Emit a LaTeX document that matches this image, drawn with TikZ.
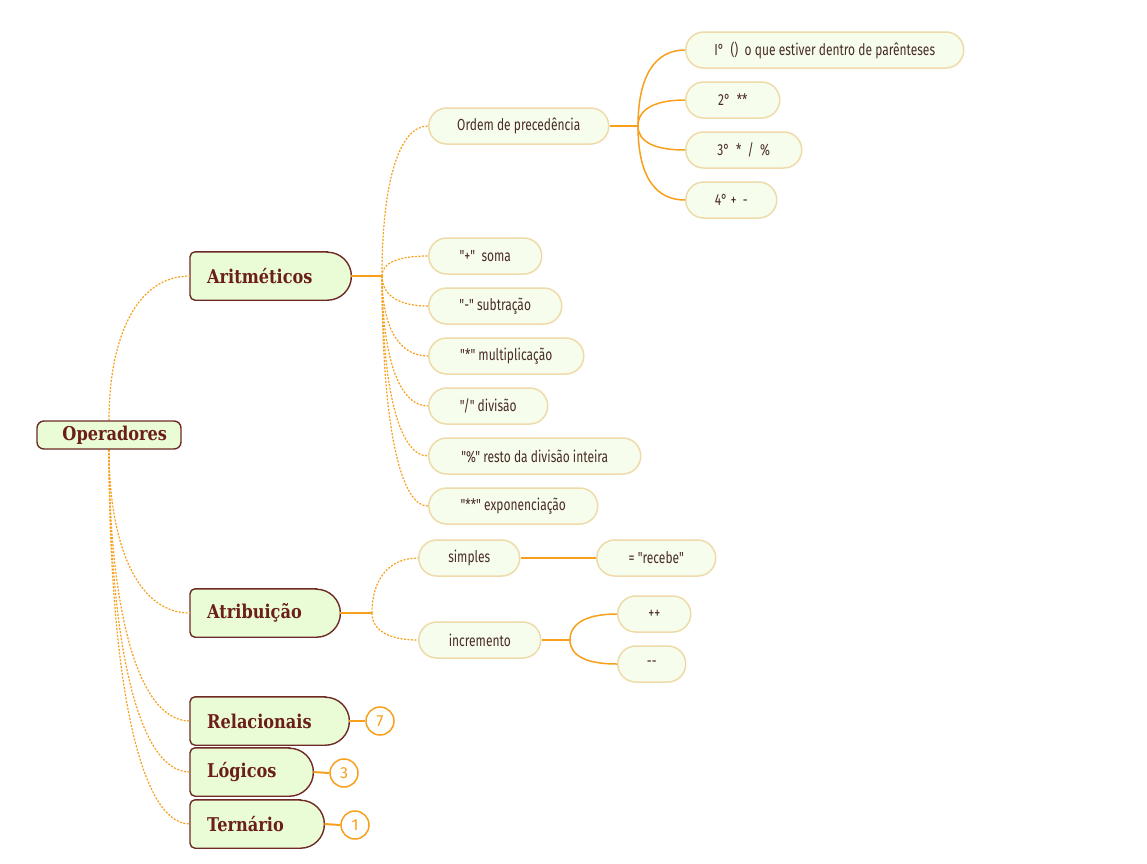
\documentclass[tikz,border=0pt]{standalone}
\usepackage{fontspec}
\newfontfamily\chfont[FakeStretch=0.75]{Fira Sans}
\newfontfamily\tpfont[FakeStretch=0.85, UprightFont={DejaVu Serif Bold}, BoldFont={DejaVu Serif Bold}]{DejaVu Serif}
\newfontfamily\nmfont{Fira Sans}
\definecolor{orng}{HTML}{F8A01C}
\definecolor{tfill}{HTML}{E9FCD5}
\definecolor{tborder}{HTML}{6E2A25}
\definecolor{ttext}{HTML}{6B1E1A}
\definecolor{cfill}{HTML}{F6FDEC}
\definecolor{cborder}{HTML}{EFDBAA}
\definecolor{ctext}{HTML}{4A2C27}
\pgfdeclarelayer{bg}
\pgfsetlayers{bg,main}
\tikzset{
  topic/.style={rectangle, minimum height=48pt, inner xsep=17pt, inner ysep=0pt,
    align=left, font=\tpfont\fontsize{19}{21}\selectfont, text=ttext, anchor=west},
  topicline/.style={draw=tborder, fill=tfill, line width=1.4pt},
  opnode/.style={rectangle, rounded corners=7pt, draw=tborder, fill=tfill, line width=1.4pt,
    minimum height=28pt, inner xsep=14pt, inner ysep=0pt, text width=116pt, align=right,
    font=\tpfont\fontsize{19}{21}\selectfont, text=ttext},
  child/.style={rectangle, rounded corners=18pt, draw=cborder, fill=cfill, line width=1.5pt,
    minimum height=36pt, inner xsep=0pt, inner ysep=0pt,
    font=\chfont\fontsize{16}{18}\selectfont, text=ctext, anchor=west},
  cnum/.style={circle, draw=orng, fill=white, line width=1.5pt, minimum size=28pt, inner sep=0pt,
    font=\nmfont\fontsize{16}{18}\selectfont, text=orng},
  dsh/.style={draw=orng, line width=1.2pt, dash pattern=on 2pt off 1.5pt},
  sol/.style={draw=orng, line width=2pt},
  solc/.style={draw=orng, line width=1.5pt},
}
\newcommand\topicshape[1]{%
  \filldraw[topicline] ([xshift=-24pt]#1.north east) -- ([xshift=5pt]#1.north west)
    arc[start angle=90,end angle=180,radius=5pt] -- ([yshift=5pt]#1.south west)
    arc[start angle=180,end angle=270,radius=5pt] -- ([xshift=-24pt]#1.south east)
    arc[start angle=-90,end angle=90,radius=24pt] -- cycle;}
\begin{document}
\begin{tikzpicture}[x=1pt,y=1pt]
\useasboundingbox (0,0) rectangle (1147,-863);

% central topic
\node[opnode] (op) at (109,-435) {Operadores};

% main topics
\node[topic, text width=127pt] (ar) at (190,-276) {Aritméticos};
\node[topic, text width=116pt] (at) at (190,-613) {Atribuição};
\node[topic, text width=125pt] (re) at (190,-721) {Relacionais};
\node[topic, text width=89pt]  (lo) at (190,-772) {Lógicos};
\node[topic, text width=100pt] (te) at (190,-824) {Ternário};

% counters
\node[cnum] (c7) at (380,-721) {7};
\node[cnum] (c3) at (344,-773) {3};
\node[cnum] (c1) at (355,-825) {1};

% hubs
\coordinate (ha) at (382,-276);
\coordinate (hp) at (638,-126);
\coordinate (ht) at (372,-613);
\coordinate (hi) at (570,-640);

% Aritméticos children
\node[child, minimum width=180pt] (ord) at (428,-126) {Ordem de precedência};
\node[child, minimum width=113pt] (soma) at (428,-256) {"+"\ \ soma};
\node[child, minimum width=133pt] (sub) at (428,-306) {"-" subtração};
\node[child, minimum width=155pt] (mul) at (428,-356) {"*" multiplicação};
\node[child, minimum width=119pt] (div) at (428,-406) {"/" divisão};
\node[child, minimum width=212pt] (res) at (428,-456) {"\%" resto da divisão inteira};
\node[child, minimum width=169pt] (exp) at (428,-506) {"**" exponenciação};

% precedence children
\node[child, minimum width=278pt] (p1) at (685,-50) {I°\ \ ()\ \ o que estiver dentro de parênteses};
\node[child, minimum width=94pt] (p2) at (685,-100) {2°\ \ **};
\node[child, minimum width=116pt] (p3) at (685,-150) {3°\ \ *\ \ /\ \ \%};
\node[child, minimum width=91pt] (p4) at (685,-200) {4° +\ \ -};

% Atribuição children
\node[child, minimum width=101pt] (sim) at (418,-558) {simples};
\node[child, minimum width=119pt] (rec) at (596,-558) {= "recebe"};
\node[child, minimum width=122pt] (inc) at (418,-640) {incremento};
\node[child, minimum width=73pt] (pp) at (617,-614) {++};
\node[child, minimum width=68pt] (mm) at (617,-664) {{-}{-}};

\begin{pgfonlayer}{bg}
\fill[white] (0,0) rectangle (1147,-863);
\foreach \n in {ar,at,re,lo,te} {\topicshape{\n}}

% central connectors
\draw[dsh] (op.north) .. controls +(0,80) and +(-55,0) .. (ar.west);
\draw[dsh] (op.south) .. controls +(0,-90) and +(-55,0) .. (at.west);
\draw[dsh] (op.south) .. controls +(0,-150) and +(-55,0) .. (re.west);
\draw[dsh] (op.south) .. controls +(0,-180) and +(-55,0) .. (lo.west);
\draw[dsh] (op.south) .. controls +(0,-205) and +(-55,0) .. (te.west);

% Aritméticos
\draw[sol] (ar.east) -- (ha);
\draw[dsh] (ha) .. controls +(0,90) and +(-30,0) .. (ord.west);
\draw[dsh] (ha) .. controls +(0,14) and +(-28,0) .. (soma.west);
\draw[dsh] (ha) .. controls +(0,-20) and +(-28,0) .. (sub.west);
\draw[dsh] (ha) .. controls +(0,-50) and +(-30,0) .. (mul.west);
\draw[dsh] (ha) .. controls +(0,-78) and +(-30,0) .. (div.west);
\draw[dsh] (ha) .. controls +(0,-108) and +(-30,0) .. (res.west);
\draw[dsh] (ha) .. controls +(0,-138) and +(-30,0) .. (exp.west);

% precedence
\draw[sol] (ord.east) -- (hp);
\draw[solc] (hp) .. controls +(0,50) and +(-30,0) .. (p1.west);
\draw[solc] (hp) .. controls +(0,18) and +(-28,0) .. (p2.west);
\draw[solc] (hp) .. controls +(0,-17) and +(-28,0) .. (p3.west);
\draw[solc] (hp) .. controls +(0,-50) and +(-30,0) .. (p4.west);

% Atribuição
\draw[sol] (at.east) -- (ht);
\draw[dsh] (ht) .. controls +(0,35) and +(-28,0) .. (sim.west);
\draw[dsh] (ht) .. controls +(0,-18) and +(-28,0) .. (inc.west);
\draw[sol] (sim.east) -- (rec.west);
\draw[sol] (inc.east) -- (hi);
\draw[solc] (hi) .. controls +(0,18) and +(-28,0) .. (pp.west);
\draw[solc] (hi) .. controls +(0,-17) and +(-28,0) .. (mm.west);

% counters
\draw[sol] (re.east) -- (c7.west);
\draw[sol] (lo.east) -- (c3.west);
\draw[sol] (te.east) -- (c1.west);
\end{pgfonlayer}
\end{tikzpicture}
\end{document}
